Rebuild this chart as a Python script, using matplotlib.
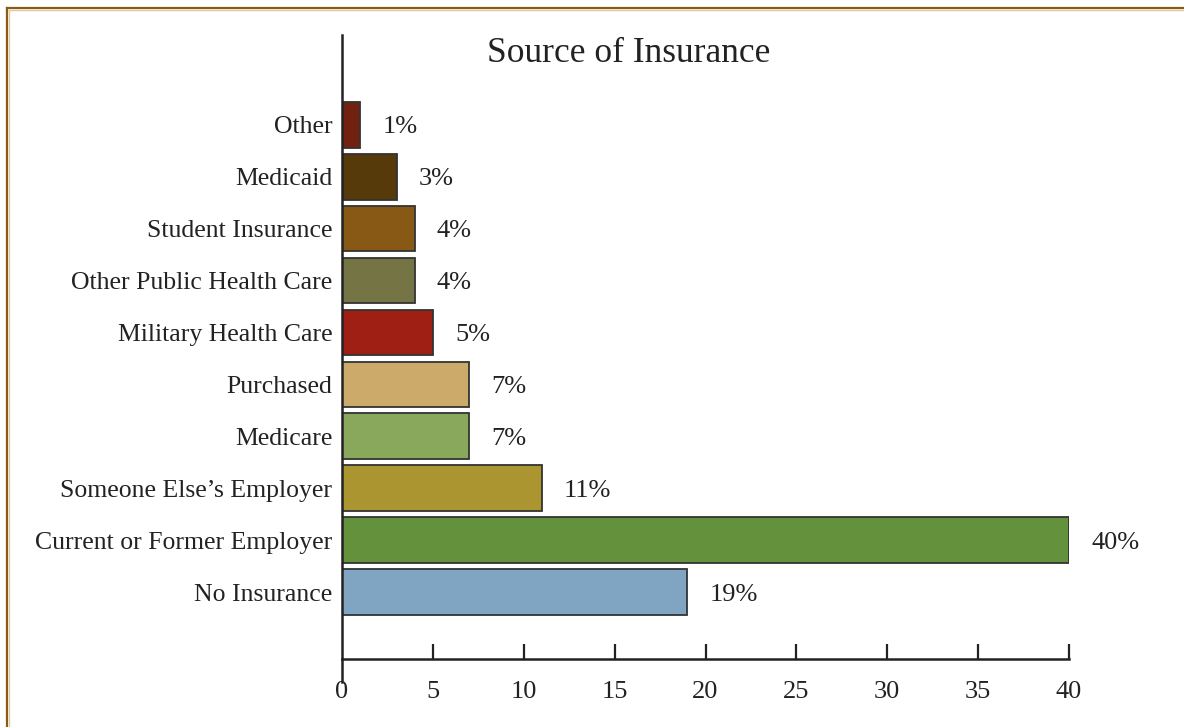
import matplotlib.pyplot as plt
from matplotlib.lines import Line2D

plt.rcParams['font.family'] = ['Liberation Serif', 'DejaVu Serif']

categories = ['No Insurance', 'Current or Former Employer', "Someone Else\u2019s Employer",
              'Medicare', 'Purchased', 'Military Health Care', 'Other Public Health Care',
              'Student Insurance', 'Medicaid', 'Other']
values = [19, 40, 11, 7, 7, 5, 4, 4, 3, 1]
colors = ['#80a5c3', '#64913c', '#aa9530', '#8aa85c', '#ccaa6a',
          '#a01f14', '#747444', '#875914', '#573a0a', '#722010']
xticks = [0, 5, 10, 15, 20, 25, 30, 35, 40]

W, H = 1184, 727
fig = plt.figure(figsize=(W / 100, H / 100), dpi=100)
left, right, top, bottom = 342, 1069, 35, 659
ax = fig.add_axes([left / W, 1 - bottom / H, (right - left) / W, (bottom - top) / H])

ypos = list(range(len(categories)))
ax.barh(ypos, values, height=0.88, color=colors, edgecolor='#333333', linewidth=1.3)

for y, v in zip(ypos, values):
    ax.annotate(f'{v}%', (v, y), xytext=(16, 0), textcoords='offset points',
                ha='left', va='center_baseline', fontsize=19, color='#222222')

ax.set_xlim(0, 40)
ax.set_ylim(-1.29, 10.73)
ax.set_yticks(ypos)
ax.set_yticklabels(categories, fontsize=18.5, color='#222222')
ax.set_xticks(xticks)
ax.set_xticklabels([str(t) for t in xticks], fontsize=19, color='#222222')
ax.tick_params(axis='y', length=0, pad=7)
ax.tick_params(axis='x', direction='in', length=11, width=1.6, color='#222222', pad=16)
ax.xaxis.get_major_ticks()[0].tick1line.set_visible(False)

for s in ['top', 'right']:
    ax.spines[s].set_visible(False)
for s in ['left', 'bottom']:
    ax.spines[s].set_linewidth(1.8)
    ax.spines[s].set_color('#222222')

# left spine continues below the x axis
ax.add_line(Line2D([0, 0], [0, -23 / (bottom - top)], transform=ax.transAxes,
                   color='#222222', linewidth=1.8, clip_on=False))

fig.text(629 / W, 1 - 54 / H, 'Source of Insurance', ha='center', va='center',
         fontsize=25.5, color='#222222')

# page frame (left and top edges)
fig.add_artist(Line2D([7 / W, 7 / W], [0, 1 - 8 / H], color='#8b5a14', linewidth=1.6))
fig.add_artist(Line2D([7 / W, 1], [1 - 8 / H, 1 - 8 / H], color='#8b5a14', linewidth=1.6))
fig.add_artist(Line2D([9 / W, 1], [1 - 10 / H, 1 - 10 / H], color='#dccba0', linewidth=1))
fig.add_artist(Line2D([9 / W, 9 / W], [0, 1 - 10 / H], color='#dccba0', linewidth=1))

fig.savefig('out.png', dpi=100)
